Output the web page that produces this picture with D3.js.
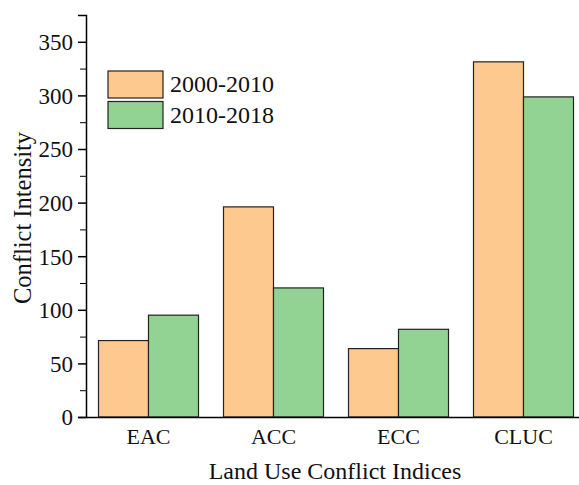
<!DOCTYPE html>
<html>
<head>
<meta charset="utf-8">
<script src="https://cdn.jsdelivr.net/npm/d3@7"></script>
<style>
body { margin: 0; background: #fff; overflow: hidden; }
svg { display: block; }
text { font-family: "Liberation Serif", "Times New Roman", serif; fill: #111; }
</style>
</head>
<body>
<div id="chart-area"></div>
<script>
// data
var categories = ["EAC", "ACC", "ECC", "CLUC"];
var seriesNames = ["2000-2010", "2010-2018"];
var values2000 = [71.3, 196, 63.8, 331.3];
var values2010 = [95, 120.4, 81.8, 298.6];
var yTicks = [0, 50, 100, 150, 200, 250, 300, 350];

var colors = ["#FEC98E", "#92D394"];

var W = 579, H = 485;
var margin = { left: 86, top: 15, bottom: 68 };
var plotW = 500, plotH = H - margin.top - margin.bottom;

var svg = d3.select("#chart-area")
    .append("svg")
        .attr("width", W)
        .attr("height", H);

var g = svg.append("g")
    .attr("transform", "translate(" + margin.left + "," + margin.top + ")");

// scales
var x0 = d3.scaleBand().domain(categories).range([0, plotW]);
var x1 = d3.scaleBand()
    .domain(seriesNames)
    .range([12.5, 112.5]);
var y = d3.scaleLinear()
    .domain([0, 375])
    .range([plotH, 0]);

var rows = categories.map(function(c, i) {
    return { cat: c, vals: [values2000[i], values2010[i]] };
});

// bars
var groups = g.selectAll(".grp")
    .data(rows)
    .enter().append("g")
        .attr("class", "grp")
        .attr("transform", function(d) { return "translate(" + x0(d.cat) + ",0)"; });

groups.selectAll("rect")
    .data(function(d) { return d.vals.map(function(v, k) { return { s: seriesNames[k], v: v, k: k }; }); })
    .enter().append("rect")
        .attr("x", function(d) { return x1(d.s); })
        .attr("width", x1.bandwidth())
        .attr("y", function(d) { return y(d.v); })
        .attr("height", function(d) { return plotH - y(d.v); })
        .attr("fill", function(d) { return colors[d.k]; })
        .attr("stroke", "#222")
        .attr("stroke-width", 1.2);

// y axis with minor ticks
var minor = d3.range(25, 375, 50);
g.append("g")
    .call(d3.axisLeft(y).tickValues(minor).tickSize(6).tickFormat(""))
    .call(function(s) { s.select(".domain").remove(); });

var yAxis = g.append("g")
    .call(d3.axisLeft(y).tickValues(yTicks).tickSize(8).tickPadding(5));
yAxis.select(".domain").attr("stroke-width", 1.5);
yAxis.selectAll(".tick line").attr("stroke-width", 1.5);
yAxis.selectAll("text").attr("font-size", "23px").attr("dy", "0.34em");

// x axis
var xAxis = g.append("g")
    .attr("transform", "translate(0," + plotH + ")")
    .call(d3.axisBottom(x0).tickSize(0).tickPadding(11));
xAxis.select(".domain").attr("stroke-width", 1.5);
xAxis.selectAll("text").attr("font-size", "22px");

// axis titles
svg.append("text")
    .attr("x", 335)
    .attr("y", 479)
    .attr("text-anchor", "middle")
    .attr("font-size", "24px")
    .text("Land Use Conflict Indices");

svg.append("text")
    .attr("transform", "rotate(-90)")
    .attr("x", -218)
    .attr("y", 31)
    .attr("text-anchor", "middle")
    .attr("font-size", "24.5px")
    .text("Conflict Intensity");

// legend
var legend = svg.append("g").attr("transform", "translate(108,71)");
seriesNames.forEach(function(s, k) {
    legend.append("rect")
        .attr("x", 0)
        .attr("y", k * 30.5)
        .attr("width", 55)
        .attr("height", 27)
        .attr("fill", colors[k])
        .attr("stroke", "#222")
        .attr("stroke-width", 1.2);
    legend.append("text")
        .attr("x", 62)
        .attr("y", k * 30.5 + 21)
        .attr("font-size", "24px")
        .text(s);
});
</script>
</body>
</html>
